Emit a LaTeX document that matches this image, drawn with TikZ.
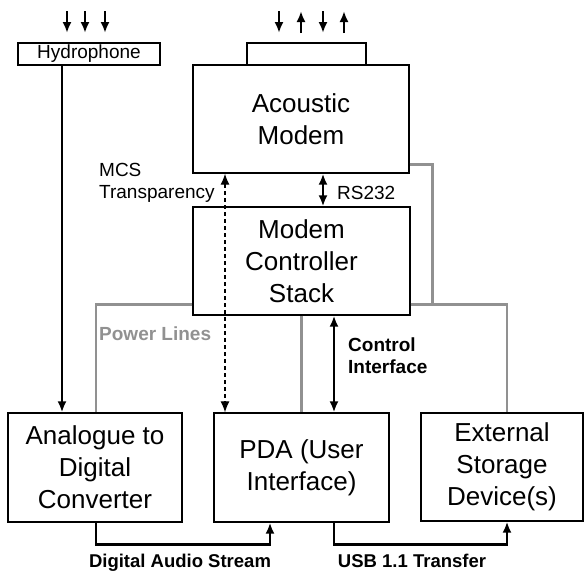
\documentclass[tikz,border=0pt]{standalone}
\usepackage{fontspec}
\setmainfont{Liberation Sans}
\usetikzlibrary{arrows.meta, positioning}
\definecolor{pwrgrey}{RGB}{145,145,145}
\tikzset{
    box/.style={draw, line width=1.3pt, align=center, font=\fontsize{26}{32}\selectfont},
    tip/.tip={Latex[length=11pt,width=9pt]},
    sig/.style={line width=2.4pt, -tip},
    sigboth/.style={line width=2.4pt, tip-tip},
    pwr/.style={draw=pwrgrey, line width=2.8pt},
    lbl/.style={inner sep=0pt, align=left, font=\fontsize{19}{22}\selectfont}
}

\begin{document}
\begin{tikzpicture}[x=1pt, y=-1pt]
    \useasboundingbox (0,0) rectangle (586,571);

    \node[box, inner sep=0pt, minimum width=142, minimum height=22, font=\fontsize{19}{20}\selectfont] (hydro) at (89,54) {Hydrophone};
    \node[box, minimum width=119, minimum height=22] (xdcr) at (306.5,54) {};
    \node[box, minimum width=216, minimum height=108] (modem) at (301,119) {Acoustic\\Modem};
    \node[box, minimum width=217, minimum height=108] (mcs) at (301.5,261) {Modem\\Controller\\Stack};
    \node[box, minimum width=174, minimum height=109] (adc) at (95,467.5) {Analogue to\\Digital\\Converter};
    \node[box, minimum width=175, minimum height=109] (pda) at (301.5,467.5) {PDA (User\\Interface)};
    \node[box, minimum width=162, minimum height=108] (store) at (502,467) {External\\Storage\\Device(s)};

    \foreach \x in {67,85,105}
        \draw[sig] (\x,11) -- (\x,33);
    \foreach \x in {279,323}
        \draw[sig] (\x,11) -- (\x,33);
    \foreach \x in {301,344}
        \draw[sig] (\x,33) -- (\x,11);

    \draw[pwr] ([yshift=9pt]modem.south east) -| ([xshift=22pt,yshift=11pt]mcs.south east);
    \draw[pwr] ([yshift=11pt]mcs.south west) -| ([xshift=1pt]adc.north);
    \draw[pwr] ([yshift=11pt]mcs.south east) -| ([xshift=5pt]store.north);
    \draw[pwr] (mcs.south -| pda.north) -- (pda.north);

    \draw[sig] ([xshift=-27pt]hydro.south) -- ([xshift=-27pt]hydro.south |- adc.north);
    \draw[sigboth] ([xshift=22pt]modem.south) -- ([xshift=22pt]modem.south |- mcs.north);
    \draw[line width=1.2pt, dash pattern=on 4pt off 3pt, tip-tip] ([xshift=-76pt]modem.south) -- ([xshift=-76pt]modem.south |- pda.north);
    \draw[sigboth] ([xshift=32.5pt]mcs.south) -- ([xshift=32.5pt]pda.north);
    \draw[sig] ([xshift=1pt]adc.south) -- ++(0,22) -| ([xshift=-31.5pt]pda.south);
    \draw[sig] ([xshift=32.5pt]pda.south) -- ++(0,22) -| ([xshift=5pt]store.south);

    \node[lbl, anchor=north west] (mcst) at (99,163) {MCS\\Transparency};
    \node[lbl, anchor=base west] (rs) at (337,199) {RS232};
    \node[lbl, anchor=base west, text=pwrgrey, font=\fontsize{19}{22}\selectfont\bfseries] (pl) at (99,340) {Power Lines};
    \node[lbl, anchor=north west, font=\fontsize{19}{22}\selectfont\bfseries] (ci) at (348,338) {Control\\Interface};
    \node[lbl, anchor=base, font=\fontsize{18.5}{22}\selectfont\bfseries] (das) at (180,567) {Digital Audio Stream};
    \node[lbl, anchor=base, font=\fontsize{18.5}{22}\selectfont\bfseries] (usb) at (412,567) {USB 1.1 Transfer};
\end{tikzpicture}
\end{document}
